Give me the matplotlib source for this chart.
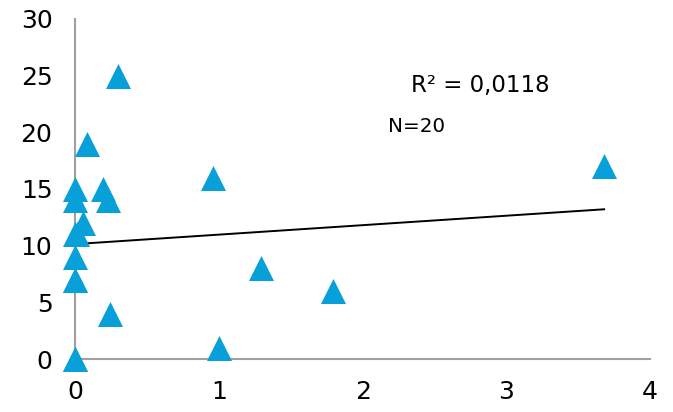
import numpy as np
import matplotlib
matplotlib.use('Agg')
import matplotlib.pyplot as plt

# data (some points sit on top of each other at x=0)
xs = [0.30, 0.08, 0.00, 0.19, 0.23, 0.00, 0.05, 0.01, 0.00, 0.00,
      0.00, 0.24, 0.00, 0.00, 0.96, 1.00, 1.29, 1.79, 3.68, 0.00]
ys = [25, 19, 15, 15, 14, 14, 12, 11, 9, 7,
      7, 4, 0, 0, 16, 1, 8, 6, 17, 11]
x_ticks = [0, 1, 2, 3, 4]
y_ticks = [0, 5, 10, 15, 20, 25, 30]
r2_label = 'R² = 0,0118'
n_label = 'N=20'

BLUE = '#08A0D8'

plt.rcParams['font.family'] = ['DejaVu Sans']

fig = plt.figure(figsize=(6.73, 4.12), dpi=100)
ax = fig.add_axes([0.112, 0.1286, 0.854, 0.8254])

ax.scatter(xs, ys, marker='^', s=18**2, color=BLUE, linewidths=0, zorder=3)

# linear trendline over the data range
k, b = np.polyfit(xs, ys, 1)
tx = np.array([min(xs), max(xs)])
ax.plot(tx, k * tx + b, color='black', lw=1.4, zorder=2)

ax.set_xlim(0, 4)
ax.set_ylim(0, 30)
ax.set_xticks(x_ticks)
ax.set_yticks(y_ticks)
ax.tick_params(length=0, labelsize=18, colors='black')
ax.tick_params(axis='y', pad=16.5)
ax.tick_params(axis='x', pad=15)
for side in ['top', 'right']:
    ax.spines[side].set_visible(False)
for side in ['left', 'bottom']:
    ax.spines[side].set_color('#a0a0a0')
    ax.spines[side].set_linewidth(1.5)
for c in ax.collections:
    c.set_clip_on(False)

fig.text(411 / 673, 1 - 92 / 412, r2_label, fontsize=16.5, va='baseline')
fig.text(388 / 673, 1 - 132 / 412, n_label, fontsize=14.3, va='baseline')

fig.savefig('out.png', dpi=100)
